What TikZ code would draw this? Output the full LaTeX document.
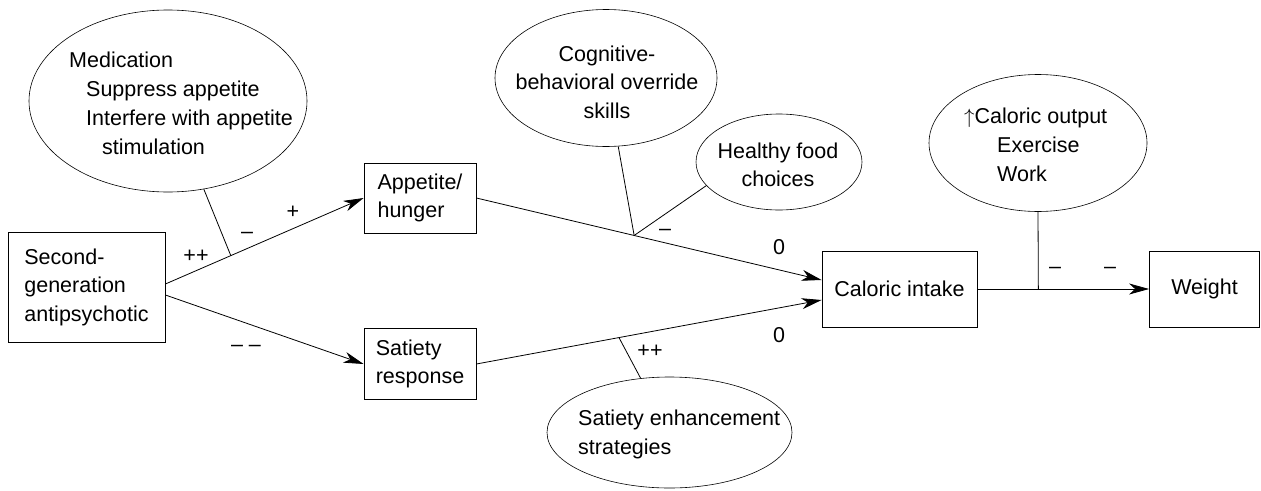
\documentclass[tikz,border=0pt]{standalone}
\usepackage{fontspec}
\setmainfont{Liberation Sans}
\usetikzlibrary{shapes.geometric,arrows.meta,calc}
\begin{document}
\begin{tikzpicture}[x=1pt,y=-1pt,
  every node/.style={font=\fontsize{21.5}{28.5}\selectfont},
  box/.style={draw, line width=0.8pt, inner sep=0pt, align=left},
  oval/.style={ellipse, draw, line width=0.6pt, inner sep=0pt},
  lbl/.style={inner sep=0pt},
  link/.style={line width=0.8pt},
  arr/.style={link, -{Stealth[length=20pt,width=11pt,inset=6pt]}}]
\useasboundingbox (0,0) rectangle (1261,490);
% boxes
\node[box, minimum width=157pt, minimum height=110pt] (sga) at (86.5,287) {Second-\\generation\\antipsychotic};
\node[box, minimum width=112pt, minimum height=70pt] (app) at (420,198) {Appetite/\\hunger};
\node[box, minimum width=112pt, minimum height=71pt] (sat) at (420,364) {Satiety\\response};
\node[box, minimum width=155pt, minimum height=76pt] (cal) at (899.5,289) {Caloric intake};
\node[box, minimum width=110pt, minimum height=76pt] (wt) at (1204.5,289) {Weight};
% ellipses
\node[oval, minimum width=278pt, minimum height=182pt] (med) at (168,101) {};
\node[oval, minimum width=222pt, minimum height=137pt] (cog) at (606,78) {};
\node[oval, minimum width=166pt, minimum height=96pt] (heal) at (779,162) {};
\node[oval, minimum width=218pt, minimum height=137pt] (cout) at (1038,143) {};
\node[oval, minimum width=245pt, minimum height=111pt] (senh) at (669.5,432.5) {};
% ellipse texts
\node[lbl, anchor=base west] (m1) at (69,67) {Medication};
\node[lbl, anchor=base west] (m2) at (86,96) {Suppress appetite};
\node[lbl, anchor=base west] (m3) at (86,125) {Interfere with appetite};
\node[lbl, anchor=base west] (m4) at (102,154) {stimulation};
\node[lbl, align=center] (cogt) at (607,82) {Cognitive-\\behavioral override\\skills};
\node[lbl, align=center] (healt) at (778,165) {Healthy food\\choices};
\node[lbl, anchor=base west] (c1) at (964,123) {$\uparrow$Caloric output};
\node[lbl, anchor=base west] (c2) at (997,152) {Exercise};
\node[lbl, anchor=base west] (c3) at (997,181) {Work};
\node[lbl, anchor=base west] (s1) at (578,425) {Satiety enhancement};
\node[lbl, anchor=base west] (s2) at (578,454) {strategies};
% arrows
\draw[arr] ([yshift=3pt]sga.east) -- coordinate[pos=0.33] (j1) (app.west);
\draw[arr] ([yshift=-8pt]sga.east) -- (sat.west);
\draw[arr] (app.east) -- coordinate[pos=0.457] (j2) ([yshift=9pt]cal.west);
\draw[arr] (sat.east) -- coordinate[pos=0.413] (j3) ([yshift=-11pt]cal.west);
\draw[arr] (cal.east) -- coordinate[pos=0.355] (j4) (wt.west);
\draw[link] (med) -- (j1);
\draw[link] (cog) -- (j2);
\draw[link] (heal.198) -- (j2);
\draw[link] (senh) -- (j3);
\draw[link] (cout.south) -- (j4);
% labels
\node[lbl] (l1) at (196,256) {++};
\node[lbl] (l2) at (247,235.5) {–};
\node[lbl] (l3) at (293,212) {+};
\node[lbl] (l4) at (246,348.5) {– –};
\node[lbl] (l5) at (665,232.5) {–};
\node[lbl] (l6) at (779,247) {0};
\node[lbl] (l7) at (779,335) {0};
\node[lbl] (l8) at (650,351) {++};
\node[lbl] (l9) at (1055,270.5) {–};
\node[lbl] (l10) at (1110,270.5) {–};
\end{tikzpicture}
\end{document}
